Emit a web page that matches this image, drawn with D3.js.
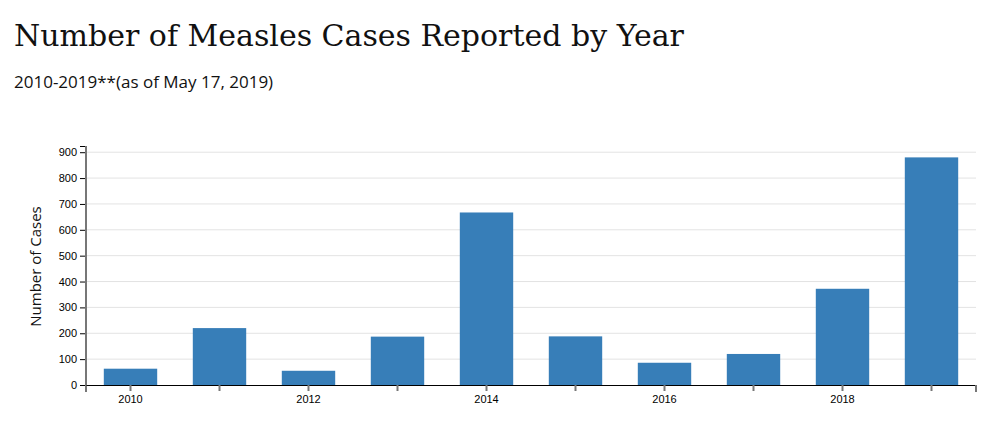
<!DOCTYPE html>
<html>
<head>
<meta charset="utf-8">
<script src="https://cdn.jsdelivr.net/npm/d3@7"></script>
<style>
    body { margin: 0; background: #fff; }
    .title { font-family: "DejaVu Serif", serif; font-size: 30px; fill: #111; }
    .subtitle { font-family: "Open Sans", sans-serif; font-size: 17px; fill: #111; }
    .axis text { font-family: "Liberation Sans", sans-serif; font-size: 11px; fill: #000; }
    .grid line { stroke: #e3e3e3; }
</style>
</head>
<body>
<script>
const years = [2010, 2011, 2012, 2013, 2014, 2015, 2016, 2017, 2018, 2019];
const cases = [63, 220, 55, 187, 667, 188, 86, 120, 372, 880];
const yTicks = [0, 100, 200, 300, 400, 500, 600, 700, 800, 900];

const W = 1006, H = 426;
const margin = {top: 146, right: 30, bottom: 41, left: 86};

let svg = d3.select("body")
    .append("svg")
    .attr("width", W)
    .attr("height", H);

svg.append("text")
    .attr("class", "title")
    .attr("x", 14)
    .attr("y", 46)
    .text("Number of Measles Cases Reported by Year");

svg.append("text")
    .attr("class", "subtitle")
    .attr("x", 14)
    .attr("y", 88)
    .text("2010-2019**(as of May 17, 2019)");

let x = d3.scaleBand()
    .domain(years)
    .range([margin.left, W - margin.right])
    .paddingInner(0.4)
    .paddingOuter(0.2);

let y = d3.scaleLinear()
    .domain([0, d3.max(cases) * 1.05])
    .range([H - margin.bottom, margin.top]);

// gridlines
svg.append("g")
    .attr("class", "grid")
    .selectAll("line")
    .data(yTicks.slice(1))
    .join("line")
    .attr("x1", margin.left)
    .attr("x2", W - margin.right)
    .attr("y1", d => y(d))
    .attr("y2", d => y(d));

// bars
svg.append("g")
    .selectAll("rect")
    .data(years)
    .join("rect")
    .attr("x", d => x(d))
    .attr("width", x.bandwidth())
    .attr("y", (d, i) => y(cases[i]))
    .attr("height", (d, i) => y(0) - y(cases[i]))
    .style("fill", "#377eb8");

// y axis
let yAxis = svg.append("g")
    .attr("class", "axis")
    .attr("transform", `translate(${margin.left},0)`)
    .call(d3.axisLeft(y).tickValues(yTicks).tickSize(6).tickPadding(3));
yAxis.selectAll("path, line").attr("stroke", "#000");

svg.append("line")
    .attr("x1", margin.left).attr("x2", margin.left)
    .attr("y1", margin.top).attr("y2", H - margin.bottom + 7)
    .attr("stroke", "#777")
    .attr("stroke-width", 2);

// x axis
let xAxis = svg.append("g")
    .attr("class", "axis")
    .attr("transform", `translate(0,${H - margin.bottom})`)
    .call(d3.axisBottom(x)
        .tickSize(6)
        .tickSizeOuter(0)
        .tickPadding(4)
        .tickFormat(d => d % 2 === 0 ? d : ""));
xAxis.select(".domain").attr("stroke", "#000");
xAxis.selectAll(".tick line").attr("stroke", "#777").attr("stroke-width", 2);

svg.append("line")
    .attr("x1", W - margin.right).attr("x2", W - margin.right)
    .attr("y1", H - margin.bottom).attr("y2", H - margin.bottom + 7)
    .attr("stroke", "#777")
    .attr("stroke-width", 2);

// y label
svg.append("text")
    .attr("transform", `translate(41,${(margin.top + H - margin.bottom) / 2 + 1}) rotate(-90)`)
    .attr("text-anchor", "middle")
    .style("font-family", "Open Sans, sans-serif")
    .style("font-size", "15px")
    .style("fill", "#111")
    .text("Number of Cases");
</script>
</body>
</html>
